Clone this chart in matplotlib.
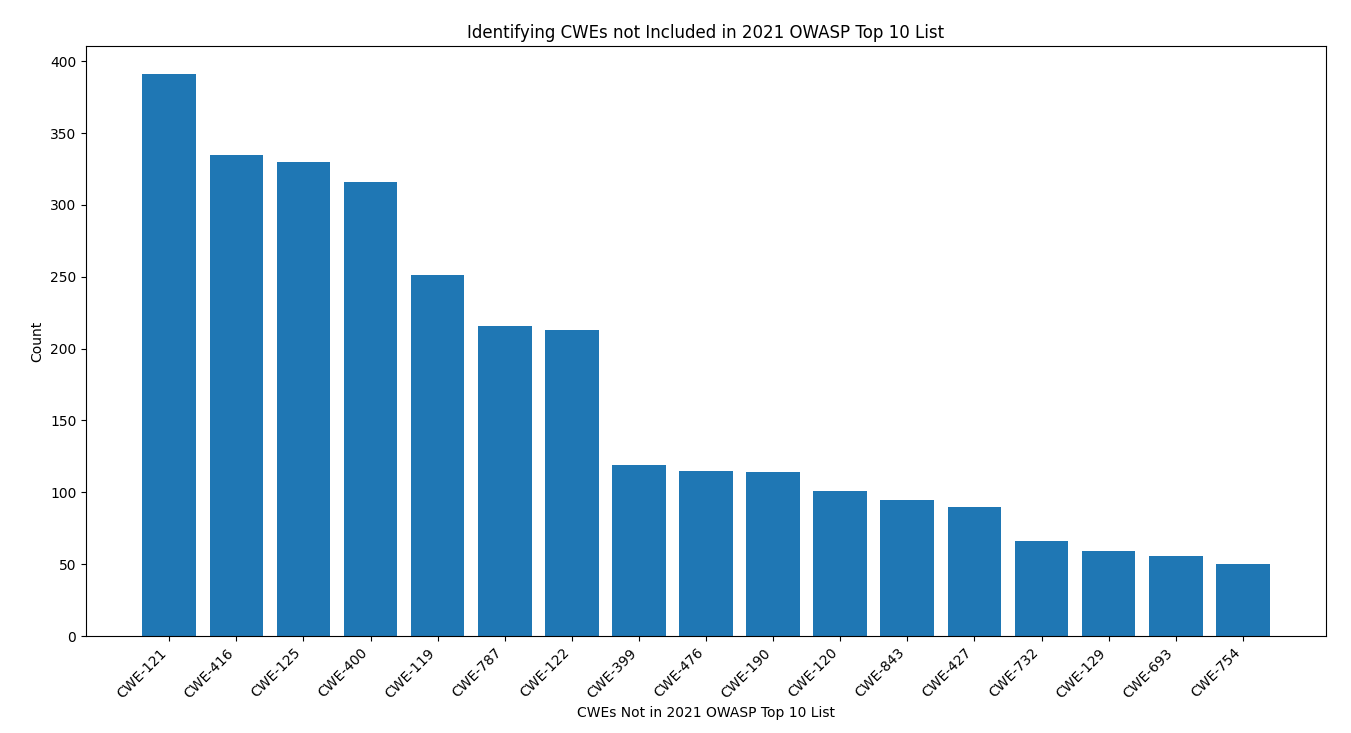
import matplotlib
matplotlib.use('Agg')
import matplotlib.pyplot as plt

# CWE ids not in the 2021 OWASP top 10, with their counts
cwes = ['CWE-121', 'CWE-416', 'CWE-125', 'CWE-400', 'CWE-119', 'CWE-787',
        'CWE-122', 'CWE-399', 'CWE-476', 'CWE-190', 'CWE-120', 'CWE-843',
        'CWE-427', 'CWE-732', 'CWE-129', 'CWE-693', 'CWE-754']
counts = [391, 335, 330, 316, 251, 216, 213, 119, 115, 114, 101, 95,
          90, 66, 59, 56, 50]

fig, ax = plt.subplots(figsize=(13.51, 7.33), dpi=100)
ax.bar(cwes, counts)
ax.set_title('Identifying CWEs not Included in 2021 OWASP Top 10 List')
ax.set_xlabel('CWEs Not in 2021 OWASP Top 10 List')
ax.set_ylabel('Count')
plt.xticks(rotation=45, ha='right')

fig.subplots_adjust(left=0.0637, right=0.9815, top=0.9372, bottom=0.1323)
fig.savefig('out.png', dpi=100)
